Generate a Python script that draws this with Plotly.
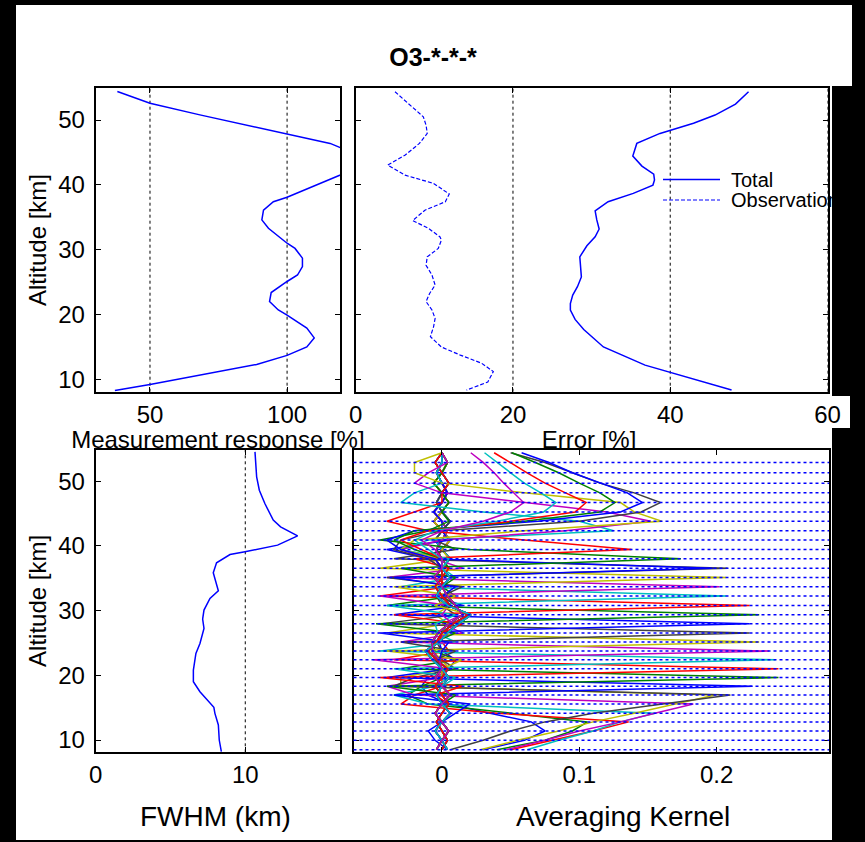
import plotly.graph_objects as go

W, H = 865, 842
FONT = "Liberation Sans, Arial, sans-serif"

# ---------------- data ----------------
# retrieval altitude levels [km] (vertices of the averaging kernels)
alt_levels = [8.5, 9.95, 11.4, 12.8, 14.15, 15.55, 16.95, 18.3, 19.65, 21.0, 22.4,
              23.75, 25.15, 26.55, 27.95, 29.35, 30.8, 32.25, 33.7, 35.1, 36.55,
              38.0, 39.45, 40.9, 42.35, 43.8, 45.25, 46.7, 48.2, 49.7, 51.3, 52.9, 54.4]
grid_lines = alt_levels[:32]          # dotted horizontal grid in the kernel panel

# measurement response [%]
mr_alt = [54.4, 52.6, 50.8, 46.4, 43.5, 41.8, 38.1, 37.4, 36.1, 34.6, 33.3, 31.0, 30.2,
          28.7, 27.4, 26.1, 25.1, 23.4, 22.0, 20.7, 19.9, 17.9, 16.4, 15.0, 13.7, 12.3, 9.2, 8.3]
mr_val = [38.1, 50.0, 68.2, 115.7, 132.0, 121.0, 100.0, 95.0, 91.4, 90.8, 93.2, 100.0, 102.9,
          105.6, 105.6, 103.8, 100.0, 94.2, 93.6, 96.8, 100.0, 107.2, 109.9, 107.2, 100.0, 88.9, 50.0, 37.2]

# total error [%]
tot_alt = [54.37, 52.47, 50.77, 49.5, 47.94, 46.4, 44.45, 42.9, 41.67, 40.75, 39.97, 38.69,
           37.4, 36.0, 34.6, 33.2, 32.0, 30.6, 28.9, 27.4, 25.8, 24.3, 23.0, 21.7, 20.7,
           19.25, 17.7, 15.0, 12.2, 8.35]
tot_val = [49.96, 48.3, 45.7, 42.96, 38.7, 35.75, 35.24, 36.4, 37.9, 38.0, 37.8, 35.3,
           32.1, 30.45, 30.66, 30.96, 30.45, 29.4, 28.5, 28.6, 28.7, 28.2, 27.6, 27.3, 27.3,
           27.9, 29.0, 31.5, 36.8, 47.8]

# observation error [%]
obs_alt = [54.37, 52.57, 50.5, 49.2, 47.94, 46.4, 44.6, 43.06, 41.5, 40.23, 38.6, 37.4,
           36.1, 34.5, 33.3, 32.0, 31.5, 30.2, 28.9, 27.6, 26.1, 24.55, 23.26, 22.0, 20.7,
           19.4, 18.1, 16.6, 15.0, 13.75, 12.5, 11.2, 9.6, 8.35]
obs_val = [5.0, 6.7, 8.6, 8.95, 9.1, 8.1, 6.3, 4.07, 6.28, 9.9, 11.9, 11.4,
           8.8, 7.25, 9.25, 10.7, 10.9, 10.5, 9.1, 8.95, 9.7, 10.1, 9.4, 8.95, 9.7,
           10.1, 9.9, 9.5, 10.9, 13.3, 16.0, 17.5, 16.8, 14.1]

# vertical resolution FWHM [km]
fw_alt = [54.53, 50.67, 48.6, 46.55, 43.98, 42.95, 41.56, 40.12, 39.09, 38.67, 37.39, 35.84,
          33.06, 31.88, 30.08, 28.69, 27.25, 24.93, 23.38, 20.81, 19.0, 17.46, 15.05, 14.12,
          12.32, 10.0, 8.2]
fw_val = [10.65, 10.76, 10.94, 11.31, 11.87, 12.36, 13.5, 12.16, 9.98, 8.98, 8.08, 7.86,
          8.2, 7.64, 7.24, 7.15, 7.24, 6.97, 6.7, 6.53, 6.53, 6.97, 7.9, 7.97,
          8.2, 8.26, 8.4]

# averaging kernels: near-zero tails (three variants) and the part around each peak
ak_tail_a = [0.0, 0.004, 0.0, -0.004, 0.0, 0.005, 0.0, -0.005, 0.0, 0.004, -0.004,
             -0.01, -0.004, 0.0, 0.008, 0.019, 0.006, 0.0, -0.005, 0.0, 0.005, 0.0,
             -0.004, 0.0, 0.004, 0.0, -0.006, 0.0, 0.004, 0.0, -0.004, 0.0, 0.0]
ak_tail_b = [0.004, 0.0, -0.005, 0.0, 0.006, 0.0, -0.004, 0.0, 0.005, 0.0, -0.007,
             -0.012, -0.002, 0.004, 0.012, 0.021, 0.004, -0.004, 0.0, 0.006, 0.0, -0.005,
             0.0, 0.006, 0.0, -0.006, 0.0, 0.005, 0.0, -0.006, 0.0, 0.004, 0.0]
ak_tail_c = [-0.004, 0.0, 0.005, 0.0, -0.005, 0.0, 0.006, 0.0, -0.005, 0.0, -0.002,
             -0.007, -0.007, -0.003, 0.005, 0.015, 0.01, 0.004, 0.0, -0.006, 0.0, 0.006,
             0.0, -0.005, 0.0, 0.006, 0.0, -0.004, 0.0, 0.005, 0.0, -0.005, 0.0]
ak_start = [0, 0, 0, 0, 0, 0, 0, 1, 5, 6, 7, 8, 9, 10, 11, 12, 13, 14, 15, 16, 17,
            17, 18, 19, 20, 20, 20, 20, 20, 20, 20, 20, 20]
ak_peak_part = [
    [0.03, 0.06, 0.075, 0.065, 0.035, 0.005, -0.01, -0.015, -0.01, 0.0],
    [0.04, 0.075, 0.095, 0.106, 0.05, -0.01, -0.025, -0.015, 0.0, 0.0],
    [0.05, 0.08, 0.11, 0.136, 0.04, -0.03, -0.02, 0.0, 0.0],
    [0.062, 0.085, 0.11, 0.13, 0.155, -0.01, -0.035, -0.005, 0.005, 0.0],
    [0.047, 0.075, 0.1, 0.13, 0.155, 0.183, -0.02, -0.04, 0.0, 0.005, 0.0],
    [0.028, 0.055, 0.085, 0.11, 0.14, 0.17, 0.199, -0.03, -0.03, 0.005, 0.0],
    [0.006, 0.03, 0.05, 0.075, 0.11, 0.16, 0.21, -0.035, -0.02, 0.01, 0.0, 0.0],
    [-0.005, -0.01, 0.0, 0.01, 0.02, -0.035, 0.226, -0.04, 0.005, 0.01, 0.0],
    [0.0, 0.01, -0.04, 0.245, -0.03, 0.01, -0.005],
    [-0.005, 0.015, -0.045, 0.245, -0.035, 0.005, 0.0],
    [0.0, 0.01, -0.035, 0.243, -0.045, 0.01, -0.005],
    [-0.005, 0.005, -0.05, 0.238, -0.03, 0.015, 0.0],
    [0.0, 0.015, -0.04, 0.231, -0.04, 0.005, -0.005],
    [-0.005, 0.01, -0.03, 0.224, -0.045, 0.01, 0.0],
    [0.0, 0.005, -0.045, 0.224, -0.035, 0.015, -0.005],
    [-0.005, 0.01, -0.048, 0.231, -0.04, 0.01, 0.0],
    [0.0, 0.015, -0.035, 0.224, -0.045, 0.005, -0.005],
    [-0.005, 0.01, -0.04, 0.207, -0.03, 0.01, 0.0],
    [0.0, 0.005, -0.045, 0.202, -0.04, 0.015, -0.005],
    [-0.005, 0.01, -0.035, 0.207, -0.045, 0.005, 0.0],
    [0.0, 0.015, -0.04, 0.208, -0.035, 0.01, -0.005],
    [0.0, 0.01, -0.035, 0.197, -0.01, -0.04, 0.005, 0.0],
    [0.0, 0.01, -0.03, 0.174, 0.02, -0.045, -0.01, 0.005],
    [0.0, 0.005, -0.02, 0.138, 0.06, -0.01, -0.04, -0.02, 0.0],
    [0.0, 0.005, -0.03, -0.01, 0.125, 0.1, 0.03, -0.03, -0.02, 0.0],
    [0.0, -0.01, -0.03, 0.0, 0.09, 0.152, 0.12, 0.06, 0.0, -0.02, -0.01],
    [0.0, 0.0, -0.03, -0.02, 0.06, 0.16, 0.14, 0.13, 0.06, 0.0, -0.02, -0.02],
    [0.0, -0.01, -0.035, -0.03, 0.0, 0.1, 0.145, 0.159, 0.14, 0.115, 0.095, 0.075, 0.05],
    [0.0, -0.005, -0.03, -0.04, -0.02, 0.07, 0.13, 0.146, 0.135, 0.115, 0.095, 0.078, 0.058],
    [0.0, 0.0, -0.02, -0.035, -0.02, 0.06, 0.115, 0.126, 0.115, 0.1, 0.085, 0.068, 0.051],
    [0.0, 0.0, -0.015, -0.03, -0.01, 0.05, 0.097, 0.105, 0.09, 0.075, 0.062, 0.05, 0.038],
    [0.0, 0.0, -0.01, -0.02, -0.005, 0.04, 0.074, 0.083, 0.072, 0.06, 0.05, 0.04, 0.031],
    [0.0, 0.0, -0.005, -0.015, 0.0, 0.03, 0.05, 0.0595, 0.052, 0.045, 0.038, 0.03, 0.021],
]
line_colors = ["#0000FF", "#008000", "#FF0000", "#00BFBF", "#BF00BF", "#BFBF00", "#404040"]

# ---------------- helpers ----------------
def px(x):
    return x / W

def py(y):
    return 1 - y / H

BLUE = "#0000FF"
tails = [ak_tail_a, ak_tail_b, ak_tail_c]

fig = go.Figure()

# top-left: measurement response
fig.add_trace(go.Scatter(x=mr_val, y=mr_alt, mode="lines", line=dict(color=BLUE, width=1.5),
                         xaxis="x", yaxis="y", showlegend=False, hoverinfo="skip"))
# top-right: errors
fig.add_trace(go.Scatter(x=tot_val, y=tot_alt, mode="lines", name="Total",
                         line=dict(color=BLUE, width=1.5),
                         xaxis="x2", yaxis="y2", showlegend=False, hoverinfo="skip"))
fig.add_trace(go.Scatter(x=obs_val, y=obs_alt, mode="lines", name="Observation",
                         line=dict(color=BLUE, width=1.2, dash="4px,2px"),
                         xaxis="x2", yaxis="y2", showlegend=False, hoverinfo="skip"))
# bottom-left: FWHM
fig.add_trace(go.Scatter(x=fw_val, y=fw_alt, mode="lines", line=dict(color=BLUE, width=1.5),
                         xaxis="x3", yaxis="y3", showlegend=False, hoverinfo="skip"))
# bottom-right: averaging kernels
for k, part in enumerate(ak_peak_part):
    row = list(tails[k % 3])
    for i, v in enumerate(part):
        row[ak_start[k] + i] = v
    fig.add_trace(go.Scatter(x=row, y=alt_levels, mode="lines",
                             line=dict(color=line_colors[k % 7], width=1.5),
                             xaxis="x4", yaxis="y4", showlegend=False, hoverinfo="skip"))

# x-axis titles of the upper panels (partly hidden by the lower panels)
fig.add_trace(go.Scatter(x=[217.9, 589.0], y=[441.5, 441.5], mode="text",
                         text=["Measurement response [%]", "Error [%]"],
                         textposition="middle center",
                         textfont=dict(size=24, color="black", family=FONT),
                         cliponaxis=True, xaxis="x5", yaxis="y5",
                         showlegend=False, hoverinfo="skip"))

# ---------------- layout ----------------
tick_font = dict(size=24, color="black", family=FONT)
YR = [8.1, 54.9]

def xax(dom, rng, vals, anchor, text=None):
    return dict(domain=[px(dom[0]), px(dom[1])], range=rng, tickvals=vals,
                ticktext=text, anchor=anchor, showline=True, linecolor="black",
                linewidth=2, mirror="allticks", ticks="inside", ticklen=5,
                tickwidth=1, tickcolor="black", showgrid=False, zeroline=False,
                tickfont=tick_font, automargin=False, ticklabelstandoff=0)

def yax(dom, anchor, labels=True, title=None):
    d = dict(domain=[py(dom[1]), py(dom[0])], range=YR, tickvals=[10, 20, 30, 40, 50],
             anchor=anchor, showline=True, linecolor="black", linewidth=2,
             mirror="allticks", ticks="inside", ticklen=5, tickwidth=1,
             tickcolor="black", showgrid=False, zeroline=False, tickfont=tick_font,
             showticklabels=labels, automargin=False, ticklabelstandoff=4)
    if title:
        d["title"] = dict(text=title, font=dict(size=24, color="black", family=FONT),
                          standoff=5)
    return d

TL_X, TR_X, BL_X, BR_X = (95.7, 340.0), (355.7, 827.5), (95.7, 339.5), (353.5, 829.0)
TOP_Y, BOT_Y = (88.3, 391.7), (449.5, 752.3)

shapes = []
# white figure area on the dark screenshot background
white_outline = [(16, 5), (852, 5), (852, 86), (832, 86), (832, 396), (850, 396),
                 (850, 428), (832, 428), (832, 840), (16, 840)]
path = "M " + " L ".join(f"{px(a)},{py(b)}" for a, b in white_outline) + " Z"
shapes.append(dict(type="path", xref="paper", yref="paper", layer="below", path=path,
                   fillcolor="white", line=dict(width=0)))
# vertical dotted reference lines
for xr, v in [("x", 50), ("x", 100), ("x2", 20), ("x2", 40), ("x2", 60), ("x3", 10)]:
    yr = "y" if xr == "x" else "y" + xr[1:]
    shapes.append(dict(type="line", xref=xr, yref=yr + " domain", x0=v, x1=v, y0=0, y1=1,
                       layer="below", line=dict(color="black", width=1, dash="dot")))
# horizontal dotted retrieval grid in kernel panel
for z in grid_lines:
    shapes.append(dict(type="line", xref="x4 domain", yref="y4", x0=0, x1=1, y0=z, y1=z,
                       line=dict(color=BLUE, width=1.5, dash="dot")))
# legend symbols
shapes.append(dict(type="line", xref="paper", yref="paper", x0=px(663), x1=px(720),
                   y0=py(179.5), y1=py(179.5), line=dict(color=BLUE, width=1.5)))
shapes.append(dict(type="line", xref="paper", yref="paper", x0=px(663), x1=px(720),
                   y0=py(200), y1=py(200), line=dict(color=BLUE, width=1.2, dash="4px,2px")))

annotations = [
    dict(text="Total", x=px(729), y=py(179.5), xref="paper", yref="paper",
         xanchor="left", yanchor="middle", showarrow=False,
         font=dict(size=20, color="black", family=FONT)),
    dict(text="Observation", x=px(729), y=py(200), xref="paper", yref="paper",
         xanchor="left", yanchor="middle", showarrow=False,
         font=dict(size=20, color="black", family=FONT)),
    dict(text="FWHM (km)", x=px(215), y=py(816), xref="paper", yref="paper",
         xanchor="center", yanchor="middle", showarrow=False,
         font=dict(size=28, color="black", family=FONT)),
    dict(text="Averaging Kernel", x=px(623), y=py(816), xref="paper", yref="paper",
         xanchor="center", yanchor="middle", showarrow=False,
         font=dict(size=28, color="black", family=FONT)),
]

fig.update_layout(
    width=W, height=H, margin=dict(l=0, r=0, t=0, b=0),
    paper_bgcolor="black", plot_bgcolor="white",
    font=dict(family=FONT, color="black"),
    title=dict(text="O3-*-*-*", x=px(433), xanchor="center", y=py(57), yanchor="middle",
               font=dict(size=25, color="black", family=FONT, weight="bold")),
    xaxis=xax(TL_X, [30.2, 119.3], [50, 100], "y"),
    yaxis=yax(TOP_Y, "x", True, "Altitude [km]"),
    xaxis2=xax(TR_X, [0, 60], [0, 20, 40, 60], "y2"),
    yaxis2=yax(TOP_Y, "x2", False),
    xaxis3=xax(BL_X, [0, 16.3], [0, 10], "y3"),
    yaxis3=yax(BOT_Y, "x3", True, "Altitude [km]"),
    xaxis4=xax(BR_X, [-0.0644, 0.2818], [0, 0.1, 0.2], "y4", ["0", "0.1", "0.2"]),
    yaxis4=yax(BOT_Y, "x4", False),
    xaxis5=dict(domain=[px(16), px(830)], range=[16, 830], visible=False, anchor="y5"),
    yaxis5=dict(domain=[py(449.5), py(398)], range=[449.5, 398], visible=False, anchor="x5"),
    shapes=shapes, annotations=annotations, showlegend=False,
)

fig.write_html("out.html",
               config={"displayModeBar": False},
               post_script="document.body.style.margin='0';"
                           "document.body.style.background='black';"
                           "document.body.style.overflow='hidden';")
